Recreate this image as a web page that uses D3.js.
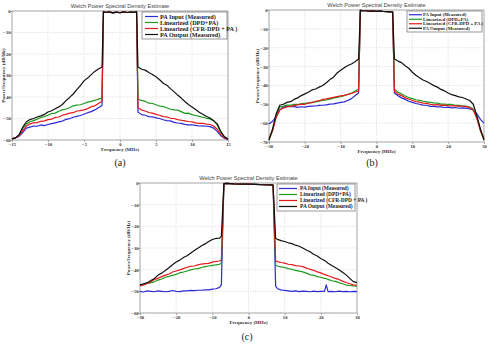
<html>
<head>
<meta charset="utf-8">
<script src="https://d3js.org/d3.v7.min.js"></script>
<style>
body { margin: 0; background: #fff; }
</style>
</head>
<body>
<svg id="chart"></svg>
<script>

// ---------- data ----------
var legendNames = ["PA Input (Measured)", "Linearized (DPD+PA)", "Linearized (CFR-DPD + PA )", "PA Output (Measured)"];
var colors = ["#2b2bd6", "#1d9a1d", "#e3191c", "#111111"];

// plot (a)
var freqA = [-15,-14.5,-14,-13.5,-13,-12.5,-12,-11.5,-11,-10.5,-10,-9.5,-9,-8.5,-8,-7.5,-7,-6.5,-6,-5.5,-5,-4.5,-4,-3.5,-3,-2.5,
  -2.3,-2,-1.5,-1,-0.5,0,0.5,1,1.5,2,2.3,
  2.5,3,3.5,4,4.5,5,5.5,6,6.5,7,7.5,8,8.5,9,9.5,10,10.5,11,11.5,12,12.5,13,13.5,14,14.5,15];
var bandA = [-0.3,-0.7,-0.4,-0.9,-0.5,-0.8,-0.4,-0.7,-0.5,-0.6,-0.3];
var inputA = [-59.5,-59,-58.2,-56.5,-54.5,-54,-53.5,-53.6,-53,-53.3,-52.8,-52.4,-52,-51.6,-51.2,-50.4,-50.1,-49.4,-49,-48.6,-48,-47.3,-46.8,-46,-45,-44]
  .concat(bandA).concat([-47,-48.2,-48.5,-49.1,-49.2,-49.7,-50,-50.6,-51,-51.1,-51.8,-52.1,-52.3,-52.7,-53,-52.9,-53.2,-53.5,-53.4,-53.6,-53.8,-54.5,-56,-58,-59.2,-59.8]);
var dpdA = [-59.5,-59,-57.5,-54.5,-52.5,-51.5,-51,-50.3,-49.5,-49.1,-48.5,-47.7,-47.5,-46.6,-46,-45.6,-45,-44.1,-43.8,-43.6,-43,-42.4,-42,-41.6,-41,-40.5]
  .concat(bandA).concat([-41,-41.6,-42,-42.9,-43,-43.6,-44.2,-44.4,-45,-45.7,-46,-46.1,-46.8,-47.6,-47.5,-48.2,-48.6,-49,-49.4,-49.9,-50.2,-51,-53,-56.5,-58.5,-59.5]);
var cfrA = [-59.5,-59,-58,-55.5,-53.5,-52.5,-52,-51.9,-51.3,-51.1,-50.5,-50.3,-49.5,-49.3,-48.5,-48.1,-47.5,-47.3,-46.5,-46.3,-46,-45.4,-44.5,-44.1,-43,-42]
  .concat(bandA).concat([-45,-46.1,-46.5,-47.2,-47.5,-48.1,-48.5,-49.1,-49.2,-49.9,-50,-50.5,-50.8,-51.1,-51.4,-51.6,-52,-52.3,-52.2,-52.6,-52.8,-53.5,-55,-57.5,-59,-59.5]);
var outputA = [-59.5,-59,-57.5,-54,-51.5,-50.5,-50,-49.3,-48.8,-48.1,-47,-46.4,-45.5,-44.6,-43.5,-41.7,-40.2,-38.6,-36.6,-34.7,-32.5,-31.2,-29.6,-28.1,-27,-26]
  .concat(bandA).concat([-26,-27.1,-27.5,-28.6,-29.5,-30.6,-32,-33.6,-34.5,-36.1,-37.5,-39.1,-40.5,-42.1,-43.5,-44.6,-45.8,-47.1,-48,-49.1,-49.8,-51,-52.5,-56,-58.5,-59.5]);

// plot (b)
var freqB = [-30,-29,-28,-27,-26,-25,-24,-23,-22,-21,-20,-19,-18,-17,-16,-15,-14,-13,-12,-11,-10,-9,-8,-7,-6,-5,
  -4.5,-4,-3,-2,-1,0,1,2,3,4,4.5,
  5,6,7,8,9,10,11,12,13,14,15,16,17,18,19,20,21,22,23,24,25,26,27,28,29,30];
var bandB = [-0.2,-0.3,-0.4,-0.6,-0.5,-0.7,-0.6,-0.8,-0.9,-1,-1];
var inputB = [-60.5,-59,-56.5,-53,-51.5,-51,-51.3,-51.2,-51.6,-51.3,-51.5,-51.1,-51,-50.9,-50.6,-50.5,-50.3,-49.9,-49.8,-49.4,-49,-48.7,-48,-47,-45.5,-44]
  .concat(bandB).concat([-44,-45.5,-46.6,-47.4,-48.4,-49,-49.6,-50,-50.4,-50.5,-51.1,-51.1,-51.4,-51.4,-51.7,-51.5,-51.9,-51.7,-52.1,-51.9,-52,-52.5,-53,-55,-58,-60]);
var dpdB = [-69,-64,-56,-51.5,-51,-50.4,-50.6,-50,-50.1,-49.7,-49.5,-49.3,-49,-48.7,-48.4,-48,-47.7,-47.3,-46.7,-46.3,-46,-45.4,-44.8,-44.1,-43,-42]
  .concat(bandB).concat([-42,-43.6,-44.5,-45.6,-46.4,-47,-47.6,-47.9,-48.4,-48.7,-49,-49.3,-49.4,-49.9,-49.9,-50.1,-50.1,-50.6,-50.5,-50.9,-51,-51.5,-52.5,-57,-64,-69]);
var cfrB = [-68,-64,-57,-53,-52,-51.4,-51.1,-50.7,-50.3,-49.9,-50,-49.4,-49.1,-48.4,-48.1,-47.4,-47.1,-46.7,-46.3,-45.9,-45.5,-45.3,-44.7,-44.3,-43.5,-43]
  .concat(bandB).concat([-43,-44.6,-45.4,-46.6,-47.2,-48,-48.6,-48.9,-49.4,-49.5,-50,-50.3,-50.2,-50.6,-50.4,-50.7,-50.8,-50.7,-51.1,-50.9,-51.2,-51.8,-53,-57.5,-64,-68]);
var outputB = [-69,-63,-55,-50.5,-50,-49,-48.6,-47.4,-46.6,-45.4,-44.5,-43.6,-42.4,-41.9,-40.9,-40,-38.6,-36.9,-35.6,-33.4,-32,-30.6,-29.4,-28.6,-27.4,-26]
  .concat(bandB).concat([-26,-27.1,-27.9,-29.6,-30.9,-33,-34.6,-35.9,-37.1,-37.9,-39,-40.1,-40.9,-42.1,-42.9,-44,-44.9,-45.4,-46.1,-46.4,-47.2,-48,-50,-56,-63,-69]);

// plot (c)
var freqC = [-30,-29,-28,-27,-26,-25,-24,-23,-22,-21,-20,-19,-18,-17,-16,-15,-14,-13,-12,-11,-10,-9,-8,-7.5,
  -6.8,-6,-4,-2,0,2,4,6,6.8,
  7.5,8,9,10,11,12,13,14,15,16,17,18,19,20,21,21.5,22,23,24,25,26,27,28,29,30];
var bandC = [-0.3,-0.2,-0.4,-0.5,-0.5,-0.6,-0.8,-0.9,-1];
var inputC = [-50,-50.3,-49.8,-50,-50.2,-49.8,-50,-50.2,-50,-49.6,-50,-50.1,-49.8,-49.8,-49.6,-49.7,-49.5,-49.5,-49.3,-49.3,-49,-48.8,-48.2,-47]
  .concat(bandC).concat([-47.5,-48.8,-49.3,-49.6,-49.8,-50,-49.8,-50.1,-49.9,-50,-50.2,-49.9,-50.1,-50,-50,-47,-50.1,-50,-50.2,-49.9,-50.1,-50,-50.2,-50,-50.1]);
var dpdC = [-47,-46.8,-46.4,-46,-45.6,-44.8,-44.3,-43.5,-43.1,-42.6,-42.2,-41.4,-41.1,-40.6,-40.1,-39.7,-39.5,-39,-38.6,-38.3,-38,-37.8,-37.5,-37]
  .concat(bandC).concat([-38,-38.3,-38.7,-39,-39.5,-39.8,-40.3,-40.7,-41,-41.6,-42.3,-42.6,-43.2,-43.5,-44,-44.2,-44.5,-45.1,-45.4,-46,-46.5,-47.1,-47.3,-47.5,-47.6]);
var cfrC = [-47.5,-47,-46.4,-45.6,-44.5,-44,-43.2,-42.5,-42,-41.1,-40.6,-40.1,-39.5,-38.9,-38.5,-38.3,-37.8,-37.4,-37.2,-37.1,-36.5,-36.2,-36,-35.5]
  .concat(bandC).concat([-36,-36.3,-36.7,-37,-37.5,-37.7,-38.1,-38.3,-38.6,-39.3,-39.8,-40.3,-41,-41.5,-42.2,-42.5,-42.8,-43.4,-44,-44.5,-45.3,-45.9,-46.5,-47,-47.2]);
var outputC = [-47,-46.5,-46,-45,-44.1,-42.5,-41.6,-40.4,-39.1,-37.7,-36.5,-35.6,-34.4,-33.6,-32.4,-31.2,-30.1,-29,-28.1,-27,-26.1,-25.6,-25.4,-24.5]
  .concat(bandC).concat([-25.5,-26,-26.6,-27,-27.6,-28,-28.7,-29.2,-30,-30.9,-31.7,-32.9,-33.7,-34.8,-35.8,-36.3,-37,-38.1,-39,-40,-41.2,-42.4,-44,-45.5,-46]);

var xTicksA = [-15,-10,-5,0,5,10,15];
var xTicks30 = [-30,-20,-10,0,10,20,30];
var yTicks60 = [0,-10,-20,-30,-40,-50,-60];
var yTicks70 = [0,-10,-20,-30,-40,-50,-60,-70];

// ---------- drawing ----------
var svg = d3.select("#chart").attr("width", 488).attr("height", 344);
svg.append("rect").attr("width", 488).attr("height", 344).attr("fill", "#fff");

drawPlot({ left: 12, top: 11, width: 216, height: 129, xDom: [-15, 15], yDom: [-60, 0],
  xTicks: xTicksA, yTicks: yTicks60, freq: freqA, series: [inputA, dpdA, cfrA, outputA],
  legend: { x: 142, y: 12, w: 85, h: 27, l1: 3, l2: 16, tx: 18, fs: 6.2 },
  ylabX: 2.8, caption: "(a)", capX: 120, capY: 166 });

drawPlot({ left: 269, top: 10, width: 215, height: 132, xDom: [-30, 30], yDom: [-70, 0],
  xTicks: xTicks30, yTicks: yTicks70, freq: freqB, series: [inputB, dpdB, cfrB, outputB],
  legend: { x: 407, y: 11, w: 75, h: 21, l1: 2, l2: 15, tx: 16, fs: 4.8 },
  ylabX: 257, caption: "(b)", capX: 372, capY: 166 });

drawPlot({ left: 140, top: 183, width: 217, height: 130, xDom: [-30, 30], yDom: [-60, 0],
  xTicks: xTicks30, yTicks: yTicks60, freq: freqC, series: [inputC, dpdC, cfrC, outputC],
  legend: { x: 277, y: 184, w: 78, h: 27, l1: 2, l2: 20, tx: 23, fs: 5.4 },
  ylabX: 128, caption: "(c)", capX: 247, capY: 340 });

function drawPlot(c) {
  var x = d3.scaleLinear().domain(c.xDom).range([c.left, c.left + c.width]);
  var y = d3.scaleLinear().domain(c.yDom).range([c.top + c.height, c.top]);
  var g = svg.append("g");

  // grid
  g.selectAll(".gx").data(c.xTicks).enter().append("line")
    .attr("x1", d => x(d)).attr("x2", d => x(d))
    .attr("y1", c.top).attr("y2", c.top + c.height)
    .attr("stroke", "#c4c4c4").attr("stroke-width", 0.6).attr("stroke-dasharray", "1,1.5");
  g.selectAll(".gy").data(c.yTicks).enter().append("line")
    .attr("x1", c.left).attr("x2", c.left + c.width)
    .attr("y1", d => y(d)).attr("y2", d => y(d))
    .attr("stroke", "#c4c4c4").attr("stroke-width", 0.6).attr("stroke-dasharray", "1,1.5");

  // box
  g.append("rect").attr("x", c.left).attr("y", c.top).attr("width", c.width).attr("height", c.height)
    .attr("fill", "none").attr("stroke", "#9a9a9a").attr("stroke-width", 0.8);

  // axes
  var xa = g.append("g").attr("transform", "translate(0," + (c.top + c.height) + ")")
    .call(d3.axisBottom(x).tickValues(c.xTicks).tickSize(2).tickSizeOuter(0));
  var ya = g.append("g").attr("transform", "translate(" + c.left + ",0)")
    .call(d3.axisLeft(y).tickValues(c.yTicks).tickSize(2).tickSizeOuter(0));
  [xa, ya].forEach(function (a) {
    a.select(".domain").remove();
    a.selectAll("line").attr("stroke", "#777").attr("stroke-width", 0.6);
    a.selectAll("text").attr("font-family", "Liberation Serif, serif").attr("font-weight", "bold")
      .attr("font-size", 4.6).attr("fill", "#333");
  });
  xa.selectAll("text").attr("dy", "0.9em").attr("y", 1.5);
  ya.selectAll("text").attr("x", -1.5);

  // labels
  g.append("text").attr("x", c.left + c.width / 2).attr("y", c.top - 3).attr("text-anchor", "middle")
    .attr("font-family", "Liberation Sans, Arial, sans-serif").attr("font-size", 5.6).attr("fill", "#444")
    .text("Welch Power Spectral Density Estimate");
  g.append("text").attr("x", c.left + c.width / 2).attr("y", c.top + c.height + 11).attr("text-anchor", "middle")
    .attr("font-family", "Liberation Serif, serif").attr("font-weight", "bold").attr("font-size", 5)
    .attr("fill", "#333").text("Frequency (MHz)");
  g.append("text").attr("transform", "translate(" + c.ylabX + "," + (c.top + c.height / 2) + ") rotate(-90)")
    .attr("text-anchor", "middle").attr("dy", "0.35em")
    .attr("font-family", "Liberation Serif, serif").attr("font-weight", "bold").attr("font-size", 5)
    .attr("fill", "#333").text("Power/frequency (dB/Hz)");
  g.append("text").attr("x", c.capX).attr("y", c.capY).attr("text-anchor", "middle")
    .attr("font-family", "Liberation Serif, serif").attr("font-size", 10).attr("fill", "#222")
    .text(c.caption);

  // series
  var line = d3.line().x((d, i) => x(c.freq[i])).y(d => y(d));
  c.series.forEach(function (s, k) {
    g.append("path").datum(s).attr("d", line).attr("fill", "none")
      .attr("stroke", colors[k]).attr("stroke-width", 1.2).attr("stroke-linejoin", "round");
  });

  // legend
  var L = c.legend;
  var lg = g.append("g");
  lg.append("rect").attr("x", L.x).attr("y", L.y).attr("width", L.w).attr("height", L.h)
    .attr("fill", "#fff").attr("stroke", "#555").attr("stroke-width", 0.6);
  var step = (L.h - 3) / 4;
  legendNames.forEach(function (n, k) {
    var yy = L.y + 1.5 + step * (k + 0.5);
    lg.append("line").attr("x1", L.x + L.l1).attr("x2", L.x + L.l2).attr("y1", yy).attr("y2", yy)
      .attr("stroke", colors[k]).attr("stroke-width", 1.2);
    lg.append("text").attr("x", L.x + L.tx).attr("y", yy).attr("dy", "0.35em")
      .attr("font-family", "Liberation Serif, serif").attr("font-weight", "bold")
      .attr("font-size", L.fs).attr("fill", "#222").text(n);
  });
}
</script>
</body>
</html>
